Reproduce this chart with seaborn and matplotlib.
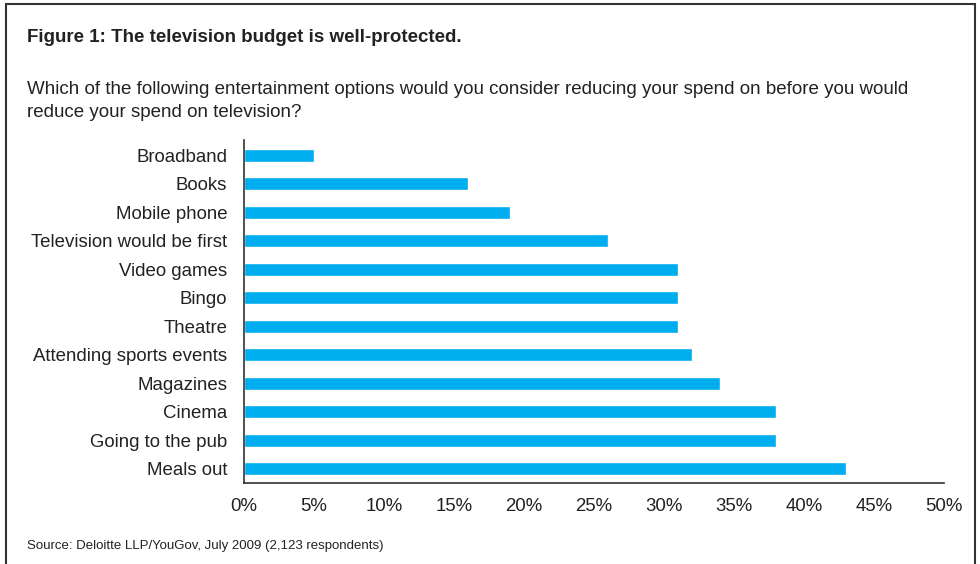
import matplotlib
matplotlib.use("Agg")
import matplotlib.pyplot as plt
import seaborn as sns
import pandas as pd
from matplotlib.patches import Rectangle
from matplotlib.ticker import PercentFormatter

categories = ["Broadband", "Books", "Mobile phone", "Television would be first",
              "Video games", "Bingo", "Theatre", "Attending sports events",
              "Magazines", "Cinema", "Going to the pub", "Meals out"]
values = [5, 16, 19, 26, 31, 31, 31, 32, 34, 38, 38, 43]
x_ticks = [0, 5, 10, 15, 20, 25, 30, 35, 40, 45, 50]

title = "Figure 1: The television budget is well-protected."
subtitle = ("Which of the following entertainment options would you consider reducing your spend on before you would\n"
            "reduce your spend on television?")
source = "Source: Deloitte LLP/YouGov, July 2009 (2,123 respondents)"

sns.set_theme(style="white")
plt.rcParams['font.family'] = ['Liberation Sans', 'DejaVu Sans']

W, H = 980, 564
fig = plt.figure(figsize=(W / 100, H / 100), dpi=100)

def fx(px):
    return px / W

def fy(py):
    return 1 - py / H

# axes placement (pixels)
L, R, T, B = 244, 944, 140, 483
ax = fig.add_axes([fx(L), fy(B), fx(R - L), (B - T) / H])

df = pd.DataFrame({"category": categories, "value": values})
sns.barplot(data=df, x="value", y="category", color="#00AEEF", width=0.46,
            saturation=1, ax=ax, orient="h")

ax.set_xlim(0, 50)
ax.set_ylim(len(categories) - 0.5, -0.53)
ax.set_xticks(x_ticks)
ax.xaxis.set_major_formatter(PercentFormatter(decimals=0))
ax.set_xlabel("")
ax.set_ylabel("")
ax.tick_params(axis="both", length=0, labelsize=13.4, colors="#222222")
ax.tick_params(axis="x", pad=11)
ax.tick_params(axis="y", pad=12)
for s in ["top", "right"]:
    ax.spines[s].set_visible(False)
for s in ["left", "bottom"]:
    ax.spines[s].set_color("#333333")
    ax.spines[s].set_linewidth(1.2)

# outer border
fig.patches.append(Rectangle((fx(6), fy(575)), fx(969), (575 - 4) / H,
                             transform=fig.transFigure, fill=False,
                             edgecolor="#333333", linewidth=1.5))

fig.text(fx(27), fy(37), title, fontsize=13.5, fontweight="bold", color="#222222",
         va="center", ha="left")
fig.text(fx(27), fy(101), subtitle, fontsize=13.5, color="#222222",
         va="center", ha="left", linespacing=1.5)
fig.text(fx(27), fy(546), source, fontsize=9.5, color="#222222",
         va="center", ha="left")

fig.savefig("out.png", dpi=100)
